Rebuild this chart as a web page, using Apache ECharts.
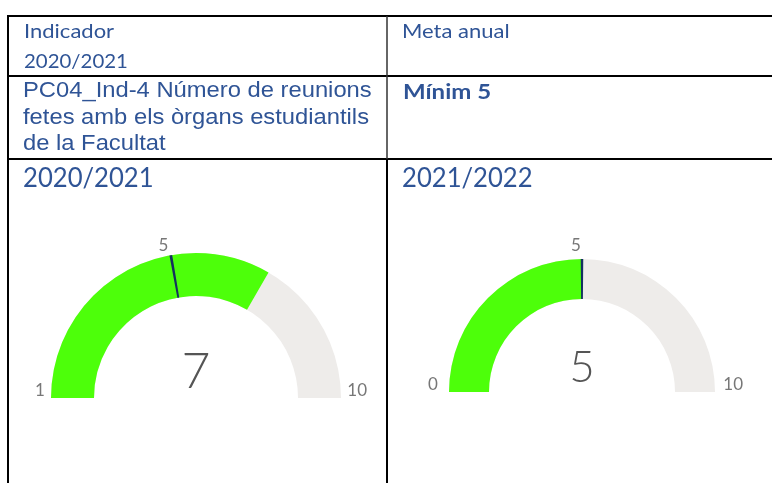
<!DOCTYPE html>
<html>
<head>
<meta charset="utf-8">
<script src="https://cdn.jsdelivr.net/npm/echarts@6/dist/echarts.min.js"></script>
<style>
  html, body { margin: 0; padding: 0; background: #fff; }
  #main { width: 772px; height: 483px; }
</style>
</head>
<body>
<div id="main"></div>
<script>
// textos de la taula
var headerLeft = ['Indicador', '2020/2021'];
var headerRight = ['Meta anual'];
var indicatorLines = ['PC04_Ind-4 Número de reunions', 'fetes amb els òrgans estudiantils', 'de la Facultat'];
var goalText = ['Mínim 5'];

// indicadors (gauges)
var years = ['2020/2021', '2021/2022'];
var actual = [7, 5];
var target = [5, 5];
var gaugeMin = [1, 0];
var gaugeMax = [10, 10];

var BLUE = '#2F5496';
var GREEN = '#4DFF0A';
var GRAY = '#EEECEA';
var NAVY = '#14305F';

var chartDom = document.getElementById('main');
var myChart = echarts.init(chartDom);

// posicio de cada gauge
var centers = [[196, 398], [582, 392]];
var radii = [145, 133];
var widths = [43, 40];
var labelDist = [-26, -28];
var minPadLeft = [10, 7];
var topPad = [7, 6];
var tgPadRight = [6, 12];
var valueSize = [50, 44];
var valueOffset = [-26, -24];

var series = [];
years.forEach(function (y, i) {
  var mn = gaugeMin[i];
  var mx = gaugeMax[i];
  var f = (target[i] - mn) / (mx - mn);
  series.push({
    type: 'gauge',
    center: centers[i],
    radius: radii[i],
    startAngle: 180,
    endAngle: 0,
    min: mn,
    max: mx,
    splitNumber: mx - mn,
    animation: false,
    progress: { show: true, width: widths[i], roundCap: false, itemStyle: { color: GREEN } },
    axisLine: { lineStyle: { width: widths[i], color: [[1, GRAY]] } },
    pointer: { show: false },
    anchor: { show: false },
    axisTick: { show: false },
    splitLine: { show: false, length: 0, distance: 0 },
    axisLabel: {
      distance: labelDist[i],
      color: '#777',
      fontSize: 17,
      fontFamily: 'Lato',
      formatter: function (v) {
        v = Math.round(v);
        if (v === mn) return '{mn|' + v + '}';
        if (v === mx) return '{mx|' + v + '}';
        if (v === target[i]) return '{tg|' + v + '}';
        return '';
      },
      rich: {
        mn: { fontSize: 17, fontFamily: 'Lato', color: '#777', padding: [0, 0, 14, minPadLeft[i]] },
        mx: { fontSize: 17, fontFamily: 'Lato', color: '#777', padding: [0, 0, 14, 0] },
        tg: { fontSize: 17, fontFamily: 'Lato', color: '#777', padding: [topPad[i], tgPadRight[i], 0, 0] }
      }
    },
    title: { show: false },
    detail: {
      offsetCenter: [0, valueOffset[i]],
      fontSize: valueSize[i],
      fontFamily: 'Lato',
      fontWeight: 300,
      color: '#555',
      formatter: '{value}'
    },
    data: [{ value: actual[i], name: y }]
  });
  // linia de la meta
  series.push({
    type: 'gauge',
    z: 5,
    center: centers[i],
    radius: radii[i],
    startAngle: 180,
    endAngle: 0,
    min: mn,
    max: mx,
    animation: false,
    axisLine: {
      lineStyle: {
        width: widths[i],
        color: [[f - 0.003, 'rgba(0,0,0,0)'], [f + 0.003, NAVY], [1, 'rgba(0,0,0,0)']]
      }
    },
    progress: { show: false },
    pointer: { show: false },
    anchor: { show: false },
    axisTick: { show: false },
    splitLine: { show: false },
    axisLabel: { show: false },
    title: { show: false },
    detail: { show: false },
    data: [{ value: target[i] }]
  });
});

function txt(x, y, s, font, sx) {
  return {
    type: 'text', x: x, y: y, scaleX: sx || 1, z: 10,
    style: { x: 0, y: 0, text: s, fill: BLUE, font: font, verticalAlign: 'middle', align: 'left' }
  };
}
function line(x1, y1, x2, y2, w, c) {
  return { type: 'line', shape: { x1: x1, y1: y1, x2: x2, y2: y2 }, style: { stroke: c || '#000', lineWidth: w } };
}

var graphics = [
  line(7, 16, 772, 16, 2),
  line(8, 15, 8, 483, 2),
  line(7, 76, 772, 76, 2),
  line(7, 159, 772, 159, 2),
  line(387, 16, 387, 159, 1.5, '#333'),
  line(387, 159, 387, 483, 2),
  txt(24, 32, headerLeft[0], '20px Lato', 1.1),
  txt(24, 61.5, headerLeft[1], '20px Lato', 1.02),
  txt(402, 32, headerRight[0], '20px Lato', 1.1),
  txt(403, 93, goalText[0], 'bold 20px Lato', 1.2),
  txt(402, 178, years[1], '27px Lato', 0.95),
  txt(23, 178, years[0], '27px Lato', 0.95)
];
indicatorLines.forEach(function (s, i) {
  graphics.push(txt(23, 91 + i * 26.5, s, '22px "Liberation Sans"', 1.08));
});

var option = {
  backgroundColor: '#fff',
  graphic: graphics,
  series: series
};
option && myChart.setOption(option);
</script>
</body>
</html>
